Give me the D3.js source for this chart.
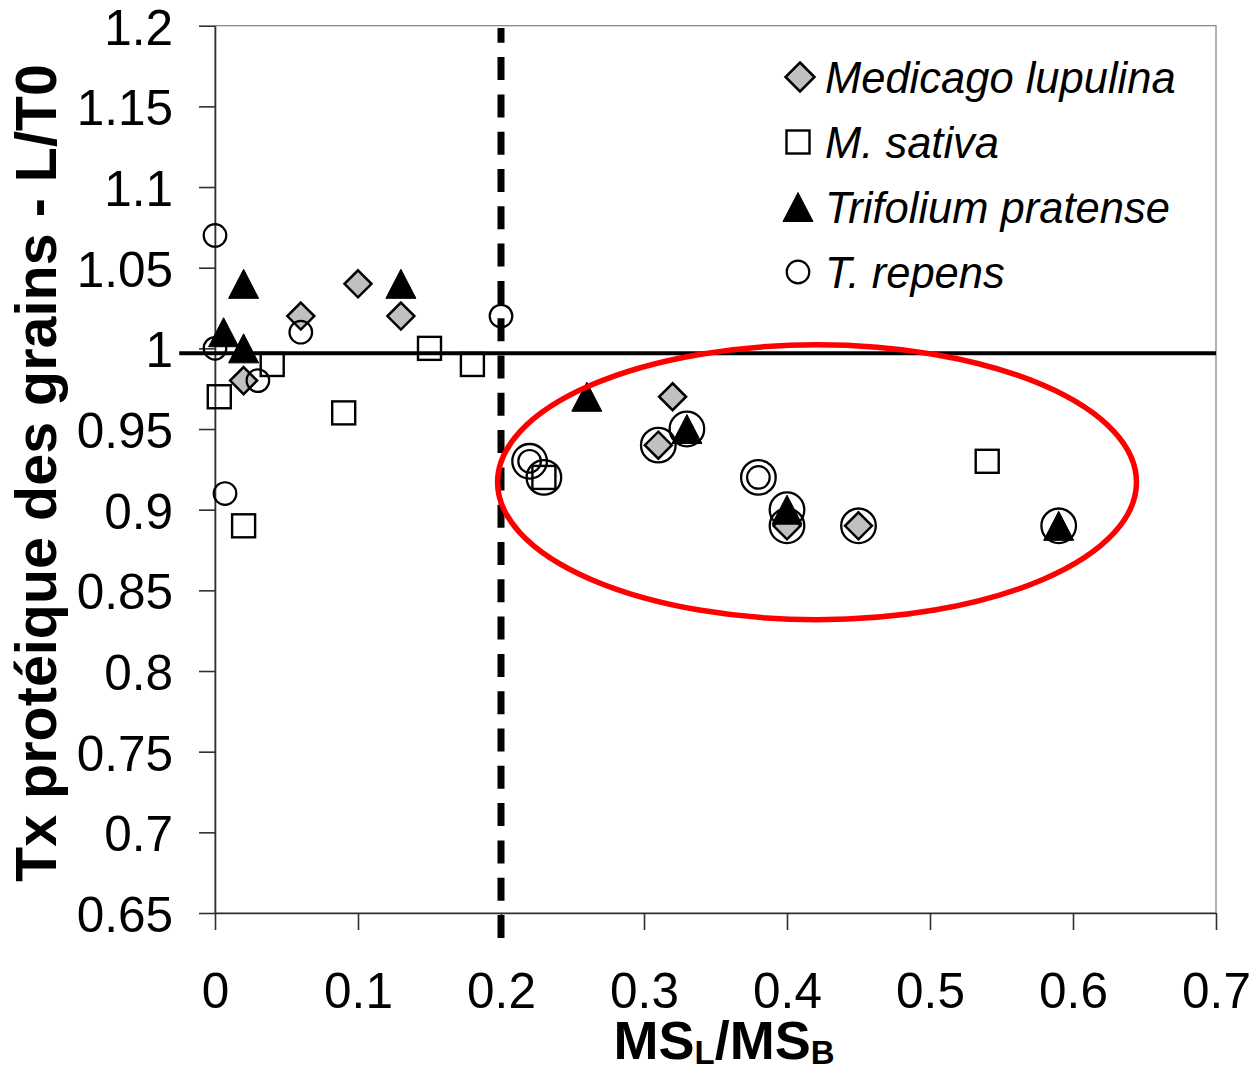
<!DOCTYPE html>
<html>
<head>
<meta charset="utf-8">
<script src="https://cdn.jsdelivr.net/npm/d3@7"></script>
<style>
  body { margin: 0; background: #fff; }
  text { font-family: "Liberation Sans", Arial, sans-serif; }
</style>
</head>
<body>
<svg id="chart" width="1255" height="1071"></svg>
<script>
// VALUES
var xTicks = [0, 0.1, 0.2, 0.3, 0.4, 0.5, 0.6, 0.7];
var yTicks = [0.65, 0.7, 0.75, 0.8, 0.85, 0.9, 0.95, 1, 1.05, 1.1, 1.15, 1.2];
var seriesNames = ["Medicago lupulina", "M. sativa", "Trifolium pratense", "T. repens"];

// [MS_L/MS_B, Tx proteique L/T0]
var lupulina = [[0.02, 0.98], [0.06, 1.02], [0.1, 1.04], [0.13, 1.02], [0.31, 0.94], [0.32, 0.97], [0.4, 0.89], [0.45, 0.89]];
var sativa = [[0.003, 0.97], [0.02, 0.89], [0.04, 0.99], [0.09, 0.96], [0.15, 1.0], [0.18, 0.99], [0.23, 0.92], [0.54, 0.93]];
var pratense = [[0.006, 1.01], [0.02, 1.04], [0.02, 1.0], [0.13, 1.04], [0.26, 0.97], [0.33, 0.95], [0.4, 0.9], [0.59, 0.89]];
var repens = [[0, 1.07], [0, 1.0], [0.007, 0.91], [0.03, 0.98], [0.06, 1.01], [0.2, 1.02], [0.22, 0.93], [0.38, 0.92]];
// big open rings drawn round some points inside the red ellipse
var circled = [[0.22, 0.93], [0.23, 0.92], [0.31, 0.94], [0.33, 0.95], [0.38, 0.92], [0.4, 0.9], [0.4, 0.89], [0.45, 0.89], [0.59, 0.89]];

// annotations, in data units
var thresholdX = 0.2;
var thresholdSpan = [0.6345, 1.1986];
var referenceY = 0.997;
var referenceSpan = [-0.025, 0.7];
var ellipseCenter = [0.421, 0.917];
var ellipseRadii = [0.2234, 0.0852];

drawChart();

function drawChart() {
  var svg = d3.select("#chart");
  var left = 215, right = 1216, top = 25.7, bottom = 913;

  var x = d3.scaleLinear().domain([0, 0.7]).range([left, right]);
  var y = d3.scaleLinear().domain([0.65, 1.2]).range([bottom, top]);

  //PLOT AREA BORDER
  svg.append("rect")
    .attr("x", left).attr("y", top)
    .attr("width", right - left).attr("height", bottom - top)
    .attr("fill", "none").attr("stroke", "#808080").attr("stroke-width", 1.2);

  //AXES
  var xAxis = d3.axisBottom(x).tickValues(xTicks).tickSize(17).tickSizeOuter(0)
    .tickPadding(43).tickFormat(d3.format(".1~f"));
  var yAxis = d3.axisLeft(y).tickValues(yTicks).tickSize(16).tickSizeOuter(0)
    .tickPadding(26).tickFormat(d3.format(".2~f"));

  var gx = svg.append("g").attr("transform", `translate(0, ${bottom})`).call(xAxis);
  var gy = svg.append("g").attr("transform", `translate(${left}, 0)`).call(yAxis);
  [gx, gy].forEach(function (g) {
    g.selectAll("path, line").attr("stroke", "#303030").attr("stroke-width", 1.6);
    g.selectAll("text")
      .attr("fill", "#000")
      .style("font-family", "'Liberation Sans', Arial, sans-serif")
      .style("font-size", "49.5px");
  });
  gy.selectAll("text").attr("dy", "0.37em");

  //MARKERS
  var marks = svg.append("g");

  marks.selectAll(".ring").data(circled).enter().append("circle")
    .attr("cx", (d) => x(d[0])).attr("cy", (d) => y(d[1])).attr("r", 17.3)
    .attr("fill", "none").attr("stroke", "#000").attr("stroke-width", 2.3);

  marks.selectAll(".diamond").data(lupulina).enter().append("path")
    .attr("d", (d) => diamondPath(x(d[0]), y(d[1]), 13.5))
    .attr("fill", "#c0c0c0").attr("stroke", "#000").attr("stroke-width", 2.5);

  marks.selectAll(".square").data(sativa).enter().append("rect")
    .attr("x", (d) => x(d[0]) - 11.5).attr("y", (d) => y(d[1]) - 11.5)
    .attr("width", 23).attr("height", 23)
    .attr("fill", "none").attr("stroke", "#000").attr("stroke-width", 2.4);

  marks.selectAll(".small").data(repens).enter().append("circle")
    .attr("cx", (d) => x(d[0])).attr("cy", (d) => y(d[1])).attr("r", 11.3)
    .attr("fill", "none").attr("stroke", "#000").attr("stroke-width", 2.2);

  marks.selectAll(".triangle").data(pratense).enter().append("path")
    .attr("d", (d) => trianglePath(x(d[0]), y(d[1]), 30, 29))
    .attr("fill", "#000").attr("stroke", "#000").attr("stroke-width", 1);

  //REFERENCE LINE AT ~1
  svg.append("line")
    .attr("x1", x(referenceSpan[0])).attr("x2", x(referenceSpan[1]))
    .attr("y1", y(referenceY)).attr("y2", y(referenceY))
    .attr("stroke", "#000").attr("stroke-width", 4);

  //DASHED THRESHOLD, drawn from the bottom up
  svg.append("line")
    .attr("x1", x(thresholdX)).attr("x2", x(thresholdX))
    .attr("y1", y(thresholdSpan[0])).attr("y2", y(thresholdSpan[1]))
    .attr("stroke", "#000").attr("stroke-width", 7)
    .attr("stroke-dasharray", "23,14.3");

  //RED ELLIPSE
  var ecx = x(ellipseCenter[0]), ecy = y(ellipseCenter[1]);
  svg.append("ellipse")
    .attr("cx", ecx).attr("cy", ecy)
    .attr("rx", x(ellipseCenter[0] + ellipseRadii[0]) - ecx)
    .attr("ry", ecy - y(ellipseCenter[1] + ellipseRadii[1]))
    .attr("fill", "none").attr("stroke", "#ff0000").attr("stroke-width", 5.5);

  //LEGEND
  var legend = svg.append("g");
  var lx = 798, ly = 77, step = 65;
  legend.append("path").attr("d", diamondPath(lx + 2, ly, 14.5))
    .attr("fill", "#c0c0c0").attr("stroke", "#000").attr("stroke-width", 2.5);
  legend.append("rect").attr("x", lx - 11.5).attr("y", ly + step - 11.5)
    .attr("width", 23).attr("height", 23)
    .attr("fill", "none").attr("stroke", "#000").attr("stroke-width", 2.4);
  legend.append("path").attr("d", trianglePath(lx, ly + 2 * step, 30, 29))
    .attr("fill", "#000").attr("stroke", "#000").attr("stroke-width", 1);
  legend.append("circle").attr("cx", lx).attr("cy", ly + 3 * step).attr("r", 11.3)
    .attr("fill", "none").attr("stroke", "#000").attr("stroke-width", 2.2);

  legend.selectAll("text").data(seriesNames).enter().append("text")
    .attr("x", 825).attr("y", (d, i) => ly + i * step + 16)
    .attr("font-size", 43.5).attr("font-style", "italic")
    .text((d) => d);

  //AXIS TITLES
  var xt = svg.append("text")
    .attr("x", 724).attr("y", 1059)
    .attr("text-anchor", "middle")
    .attr("font-size", 54).attr("font-weight", "bold");
  xt.append("tspan").text("MS");
  xt.append("tspan").attr("font-size", 33).attr("dy", 5).text("L");
  xt.append("tspan").attr("dy", -5).text("/MS");
  xt.append("tspan").attr("font-size", 33).attr("dy", 5).text("B");

  svg.append("text")
    .attr("transform", "translate(56, 473) rotate(-90)")
    .attr("text-anchor", "middle")
    .attr("font-size", 57.5).attr("font-weight", "bold")
    .text("Tx protéique des grains - L/T0");
}

function diamondPath(cx, cy, r) {
  return `M${cx},${cy - r}L${cx + r},${cy}L${cx},${cy + r}L${cx - r},${cy}Z`;
}

function trianglePath(cx, cy, w, h) {
  return `M${cx},${cy - h / 2}L${cx + w / 2},${cy + h / 2}L${cx - w / 2},${cy + h / 2}Z`;
}
</script>
</body>
</html>
